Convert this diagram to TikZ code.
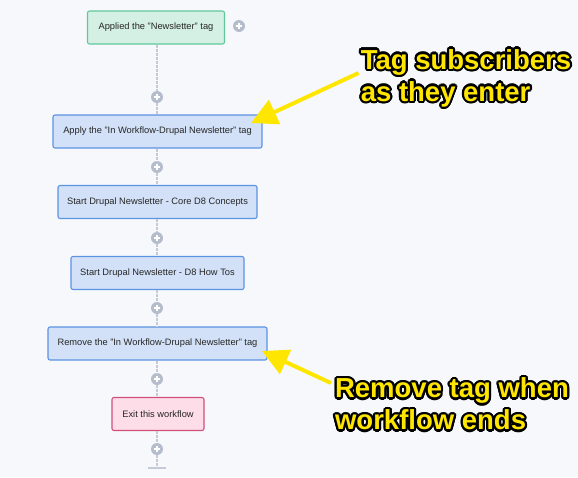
\documentclass[tikz,border=0pt]{standalone}
\usepackage{fontspec}
\setmainfont{Liberation Sans}
\usepackage{xcolor}
\usetikzlibrary{arrows.meta, positioning}
\definecolor{pagebg}{HTML}{F6F8FC}
\definecolor{greenfill}{HTML}{D4F0E4}
\definecolor{greenline}{HTML}{62C99C}
\definecolor{bluefill}{HTML}{D2E1F7}
\definecolor{blueline}{HTML}{5C93E2}
\definecolor{pinkfill}{HTML}{FCDDE8}
\definecolor{pinkline}{HTML}{D24F7A}
\definecolor{flowgray}{HTML}{C4CAD6}
\definecolor{plusgray}{HTML}{B5BDCC}
\definecolor{notey}{HTML}{FFE600}
\tikzset{
  stepbox/.style={draw=blueline, fill=bluefill, rounded corners=2pt, line width=1.1pt,
    minimum height=33pt, inner sep=0pt, text=black!85, font=\fontsize{9.3}{11}\selectfont},
  plusdot/.style={circle, fill=plusgray, minimum size=12pt, inner sep=0pt,
    path picture={
      \draw[white, line width=1.6pt]
        ([xshift=-3.2pt]path picture bounding box.center) -- ([xshift=3.2pt]path picture bounding box.center)
        ([yshift=-3.2pt]path picture bounding box.center) -- ([yshift=3.2pt]path picture bounding box.center);
    }},
  flowline/.style={draw=flowgray, line width=1.6pt, dash pattern=on 3pt off 1pt},
  callout/.style={align=left, inner sep=0pt, font=\fontsize{27.5}{32}\selectfont\bfseries},
  notearrow/.style={draw=notey, line width=4pt, -{Triangle[length=26pt, width=26pt]}}
}

\begin{document}
\begin{tikzpicture}[x=1pt, y=-1pt]

    % page
    \fill[pagebg] (0,0) rectangle (578,477);
    \useasboundingbox (0,0) rectangle (578,477);

    % Workflow steps
    \node[stepbox, draw=greenline, fill=greenfill, minimum width=137pt] (applied) at (156,27.5)
      {Applied the "Newsletter" tag};
    \node[stepbox, minimum width=209pt] (tagapply) at (157.5,131.5)
      {Apply the "In Workflow-Drupal Newsletter" tag};
    \node[stepbox, minimum width=199pt] (coreD) at (157.5,202)
      {Start Drupal Newsletter - Core D8 Concepts};
    \node[stepbox, minimum width=173pt] (howtos) at (157.5,273)
      {Start Drupal Newsletter - D8 How Tos};
    \node[stepbox, minimum width=219pt] (tagremove) at (157.5,343.5)
      {Remove the "In Workflow-Drupal Newsletter" tag};
    \node[stepbox, draw=pinkline, fill=pinkfill, minimum width=92pt] (exitflow) at (158,414)
      {Exit this workflow};

    % Plus buttons
    \node[plusdot] (addside) at (239,26) {};
    \node[plusdot] (add1) at (157,97) {};
    \node[plusdot] (add2) at (157,167) {};
    \node[plusdot] (add3) at (157,238) {};
    \node[plusdot] (add4) at (157,308) {};
    \node[plusdot] (add5) at (157,379) {};
    \node[plusdot] (add6) at (157,449) {};
    \coordinate (flowend) at (157,468);

    % Flow line
    \draw[flowline] (applied.south -| add1) -- (add1);
    \draw[flowline] (add1) -- (add1 |- tagapply.north);
    \draw[flowline] (tagapply.south -| add2) -- (add2) -- (add2 |- coreD.north);
    \draw[flowline] (coreD.south -| add3) -- (add3) -- (add3 |- howtos.north);
    \draw[flowline] (howtos.south -| add4) -- (add4) -- (add4 |- tagremove.north);
    \draw[flowline] (tagremove.south -| add5) -- (add5) -- (add5 |- exitflow.north);
    \draw[flowline] (exitflow.south -| add6) -- (add6) -- (flowend);
    \draw[draw=flowgray, line width=1.4pt] ([xshift=-9pt]flowend) -- ([xshift=9pt]flowend);

    % Callouts (black outline under yellow text)
    \foreach \a in {0,22.5,...,337.5} {
      \node[callout, text=black, shift={(\a:2.2pt)}] at (466,78) {Tag subscribers\\as they enter};
      \node[callout, text=black, shift={(\a:2.2pt)}] at (452,404) {Remove tag when\\workflow ends};
    }
    \node[callout, text=notey] (tagnote) at (466,78) {Tag subscribers\\as they enter};
    \node[callout, text=notey] (removenote) at (452,404) {Remove tag when\\workflow ends};

    % Arrows
    \coordinate (tagtip) at (251,123);
    \coordinate (removetip) at (262,351);
    \draw[notearrow] ([xshift=-2pt, yshift=5pt]tagnote.west) -- (tagtip);
    \draw[notearrow] ([xshift=-4pt, yshift=21pt]removenote.west) -- (removetip);

  \end{tikzpicture}
\end{document}
